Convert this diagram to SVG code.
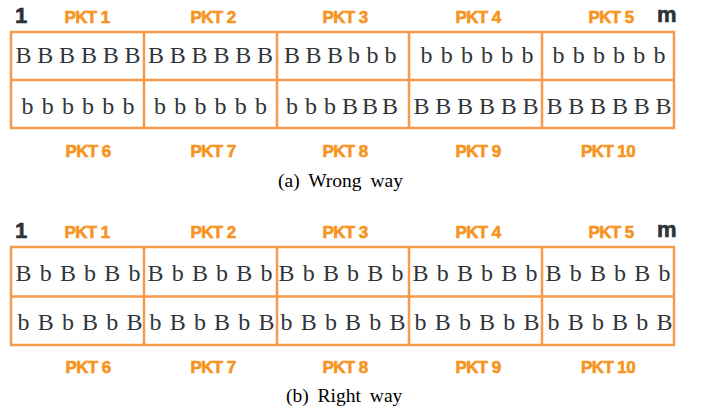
<svg xmlns="http://www.w3.org/2000/svg" width="706" height="411" viewBox="0 0 706 411">
<style>
.grid{fill:none;stroke:#f69a4c;stroke-width:2.5}
.pkt{font-family:"Liberation Sans",Arial,sans-serif;font-weight:bold;font-size:17px;fill:#f7941d;stroke:#f7941d;stroke-width:0.6px;text-anchor:middle;letter-spacing:-0.6px}
.end{font-family:"Liberation Sans",Arial,sans-serif;font-weight:bold;font-size:22px;fill:#2d3236;stroke:#2d3236;stroke-width:0.6px}
.cell{font-family:"Liberation Serif","Times New Roman",serif;font-size:24px;fill:#30353a;text-anchor:middle}
.cap{font-family:"Liberation Serif","Times New Roman",serif;font-size:19.5px;fill:#000;word-spacing:4px}
</style>
<rect width="706" height="411" fill="#fff"/>

<!-- (a) Wrong way -->
<g id="wrong-way">
  <g id="a-labels">
    <text class="end" x="15" y="23">1</text>
    <text class="end" x="657" y="22">m</text>
    <text class="pkt" x="87" y="23">PKT 1</text>
    <text class="pkt" x="213" y="23">PKT 2</text>
    <text class="pkt" x="345" y="23">PKT 3</text>
    <text class="pkt" x="478" y="23">PKT 4</text>
    <text class="pkt" x="611" y="23">PKT 5</text>
    <text class="pkt" x="88" y="157">PKT 6</text>
    <text class="pkt" x="213" y="157">PKT 7</text>
    <text class="pkt" x="345" y="157">PKT 8</text>
    <text class="pkt" x="478" y="157">PKT 9</text>
    <text class="pkt" x="608" y="157">PKT 10</text>
  </g>
  <g id="a-grid">
    <rect class="grid" x="11" y="32" width="663" height="96"/>
    <line class="grid" x1="11" y1="80" x2="674" y2="80"/>
    <line class="grid" x1="144" y1="32" x2="144" y2="128"/>
    <line class="grid" x1="277" y1="32" x2="277" y2="128"/>
    <line class="grid" x1="409" y1="32" x2="409" y2="128"/>
    <line class="grid" x1="542" y1="32" x2="542" y2="128"/>
  </g>
  <g id="a-cells">
    <text class="cell" x="23.5 45.3 67.1 88.9 110.7 132.5" y="63">BBBBBB</text>
    <text class="cell" x="156 177.8 199.6 221.4 243.2 265" y="63">BBBBBB</text>
    <text class="cell" x="292 313.5 335 354 372.5 390.5" y="63">BBBbbb</text>
    <text class="cell" x="426.5 446.7 466.9 487.1 507.3 527.5" y="63">bbbbbb</text>
    <text class="cell" x="558.5 578.7 598.9 619.1 639.3 659.5" y="63">bbbbbb</text>
    <text class="cell" x="27.5 47.7 67.9 88.1 108.3 128.5" y="114">bbbbbb</text>
    <text class="cell" x="160 180.2 200.4 220.6 240.8 261" y="114">bbbbbb</text>
    <text class="cell" x="292 311 330 350 370 390" y="114">bbbBBB</text>
    <text class="cell" x="421.5 443.3 465.1 486.9 508.7 530.5" y="114">BBBBBB</text>
    <text class="cell" x="554.5 576.3 598.1 619.9 641.7 663.5" y="114">BBBBBB</text>
  </g>
  <text class="cap" x="278" y="187">(a) Wrong way</text>
</g>

<!-- (b) Right way -->
<g id="right-way">
  <g id="b-labels">
    <text class="end" x="15" y="238">1</text>
    <text class="end" x="657" y="237">m</text>
    <text class="pkt" x="87" y="238">PKT 1</text>
    <text class="pkt" x="213" y="238">PKT 2</text>
    <text class="pkt" x="345" y="238">PKT 3</text>
    <text class="pkt" x="478" y="238">PKT 4</text>
    <text class="pkt" x="611" y="238">PKT 5</text>
    <text class="pkt" x="88" y="373">PKT 6</text>
    <text class="pkt" x="213" y="373">PKT 7</text>
    <text class="pkt" x="345" y="373">PKT 8</text>
    <text class="pkt" x="478" y="373">PKT 9</text>
    <text class="pkt" x="608" y="373">PKT 10</text>
  </g>
  <g id="b-grid">
    <rect class="grid" x="11" y="247" width="663" height="98"/>
    <line class="grid" x1="11" y1="296.5" x2="674" y2="296.5"/>
    <line class="grid" x1="144" y1="247" x2="144" y2="345"/>
    <line class="grid" x1="277" y1="247" x2="277" y2="345"/>
    <line class="grid" x1="409" y1="247" x2="409" y2="345"/>
    <line class="grid" x1="542" y1="247" x2="542" y2="345"/>
  </g>
  <g id="b-cells">
    <text class="cell" x="23.5 45.7 67.9 90.1 112.3 134.5" y="281">BbBbBb</text>
    <text class="cell" x="155.5 177.7 199.9 222.1 244.3 266.5" y="281">BbBbBb</text>
    <text class="cell" x="286.5 308.7 330.9 353.1 375.3 397.5" y="281">BbBbBb</text>
    <text class="cell" x="420.5 442.7 464.9 487.1 509.3 531.5" y="281">BbBbBb</text>
    <text class="cell" x="553.5 575.7 597.9 620.1 642.3 664.5" y="281">BbBbBb</text>
    <text class="cell" x="23.5 45.7 67.9 90.1 112.3 134.5" y="330">bBbBbB</text>
    <text class="cell" x="155.5 177.7 199.9 222.1 244.3 266.5" y="330">bBbBbB</text>
    <text class="cell" x="286.5 308.7 330.9 353.1 375.3 397.5" y="330">bBbBbB</text>
    <text class="cell" x="420.5 442.7 464.9 487.1 509.3 531.5" y="330">bBbBbB</text>
    <text class="cell" x="553.5 575.7 597.9 620.1 642.3 664.5" y="330">bBbBbB</text>
  </g>
  <text class="cap" x="286" y="402">(b) Right way</text>
</g>
</svg>
